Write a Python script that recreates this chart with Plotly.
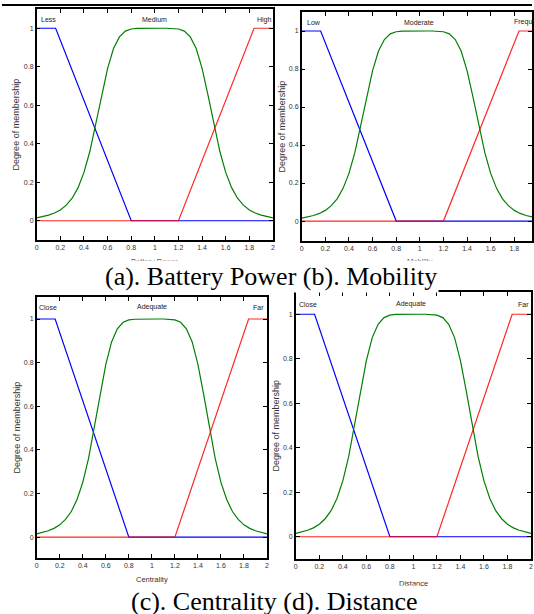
import plotly.graph_objects as go

W, H = 534, 614

# ---- data ----
low_x = [0, 0.16, 0.8, 2.0]
low_y = [1, 1, 0, 0]
high_x = [0, 1.2, 1.84, 2.0]
high_y = [0, 0, 1, 1]
mid_x = [0.0, 0.05, 0.1, 0.15, 0.2, 0.25, 0.3, 0.35, 0.4, 0.45, 0.5, 0.55, 0.6, 0.65,
         0.7, 0.75, 0.8, 0.85, 0.9, 0.95, 1.0, 1.05, 1.1, 1.15, 1.2, 1.25, 1.3, 1.35,
         1.4, 1.45, 1.5, 1.55, 1.6, 1.65, 1.7, 1.75, 1.8, 1.85, 1.9, 1.95, 2.0]
mid_y = [0.015, 0.021, 0.029, 0.040, 0.056, 0.081, 0.117, 0.172, 0.251, 0.361, 0.5,
         0.653, 0.792, 0.895, 0.955, 0.985, 0.996, 0.999, 1, 1, 1, 1, 1, 0.999, 0.996,
         0.985, 0.955, 0.895, 0.792, 0.653, 0.5, 0.361, 0.251, 0.172, 0.117, 0.081,
         0.056, 0.040, 0.029, 0.021, 0.015]

labels_a = ["Less", "Medium", "High"]
labels_b = ["Low", "Moderate", "Frequent"]
labels_c = ["Close", "Adequate", "Far"]
labels_d = ["Close", "Adequate", "Far"]
xtitles = ["Battery Power", "Mobility", "Centrality", "Distance"]
ytitle = "Degree of membership"
captions = ["(a). Battery Power (b). Mobility", "(c). Centrality (d). Distance"]


def px(x):
    return x / W


def py(y):
    return 1 - y / H


panels = [
    dict(xd=(35, 273), yd=(9, 240), xr=[0, 2], yr=[-0.1, 1.1], labels=labels_a,
         lx=(0.02, 1.0, 1.85), ly=1.045, ytx=15, xty=261),
    dict(xd=(302, 534), yd=(12, 241), xr=[0, 1.95], yr=[-0.105, 1.1], labels=labels_b,
         lx=(0.03, 0.99, 1.78), ly=1.045, ytx=283, xty=261),
    dict(xd=(35, 267), yd=(297, 558), xr=[0, 2], yr=[-0.096, 1.101], labels=labels_c,
         lx=(0.0, 1.0, 1.86), ly=1.055, ytx=15, xty=579),
    dict(xd=(296, 533), yd=(292, 559), xr=[0, 2], yr=[-0.1, 1.1], labels=labels_d,
         lx=(0.01, 0.98, 1.87), ly=1.045, ytx=276, xty=583),
]

fig = go.Figure()
layout = dict(width=W, height=H, margin=dict(l=0, r=0, t=0, b=0),
              paper_bgcolor="white", plot_bgcolor="white", showlegend=False)
annotations = []
tickfont = dict(family="Liberation Sans, Arial", size=7, color="#333333")

for i, p in enumerate(panels):
    n = "" if i == 0 else str(i + 1)
    xa, ya = "x" + n, "y" + n
    fig.add_trace(go.Scatter(x=low_x, y=low_y, mode="lines", xaxis=xa, yaxis=ya,
                             line=dict(color="#0000ff", width=1.2)))
    fig.add_trace(go.Scatter(x=mid_x, y=mid_y, mode="lines", xaxis=xa, yaxis=ya,
                             line=dict(color="#008000", width=1.2)))
    fig.add_trace(go.Scatter(x=high_x, y=high_y, mode="lines", xaxis=xa, yaxis=ya,
                             opacity=0.85, line=dict(color="#ff0000", width=1.2)))
    common = dict(showline=True, linecolor="black", linewidth=1.5, mirror="ticks",
                  ticks="inside", ticklen=4, tickwidth=1, tickcolor="black",
                  showgrid=False, zeroline=False, tickfont=tickfont)
    layout["xaxis" + n] = dict(domain=[px(p["xd"][0]), px(p["xd"][1])], range=p["xr"],
                               tick0=0, dtick=0.2, anchor=ya, **common)
    layout["yaxis" + n] = dict(domain=[py(p["yd"][1]), py(p["yd"][0])], range=p["yr"],
                               tick0=0, dtick=0.2, anchor=xa, **common)
    for j, lab in enumerate(p["labels"]):
        annotations.append(dict(x=p["lx"][j], y=p["ly"], xref=xa, yref=ya, text=lab,
                                showarrow=False, xanchor="center" if j == 1 else "left",
                                yanchor="middle",
                                font=dict(family="Liberation Sans, Arial", size=7, color="#222222")))
    annotations.append(dict(x=px(p["ytx"]), y=py((p["yd"][0] + p["yd"][1]) / 2),
                            xref="paper", yref="paper", text=ytitle, textangle=-90,
                            showarrow=False, xanchor="center", yanchor="middle",
                            font=dict(family="Liberation Sans, Arial", size=9, color="#333333")))
    xc = p["xd"][0] + (p["xd"][1] - p["xd"][0]) * (1.0 / p["xr"][1])
    annotations.append(dict(x=px(xc), y=py(p["xty"]), xref="paper", yref="paper",
                            text=xtitles[i], showarrow=False, xanchor="center",
                            yanchor="middle",
                            font=dict(family="Liberation Sans, Arial", size=7.5, color="#333333")))

annotations.append(dict(x=px(271), y=py(276), xref="paper", yref="paper", text=captions[0],
                        showarrow=False, xanchor="center", yanchor="middle", bgcolor="white",
                        font=dict(family="Liberation Serif, Times New Roman", size=26, color="black")))
annotations.append(dict(x=px(275), y=py(601), xref="paper", yref="paper", text=captions[1],
                        showarrow=False, xanchor="center", yanchor="middle", bgcolor="white",
                        font=dict(family="Liberation Serif, Times New Roman", size=26, color="black")))

layout["annotations"] = annotations
layout["shapes"] = [dict(type="line", xref="paper", yref="paper", x0=0, x1=1,
                         y0=py(5), y1=py(5), line=dict(color="black", width=2))]
fig.update_layout(**layout)
fig.write_html("out.html", config={"displayModeBar": False},
               post_script="document.body.style.margin='0';document.body.style.overflow='hidden';")
